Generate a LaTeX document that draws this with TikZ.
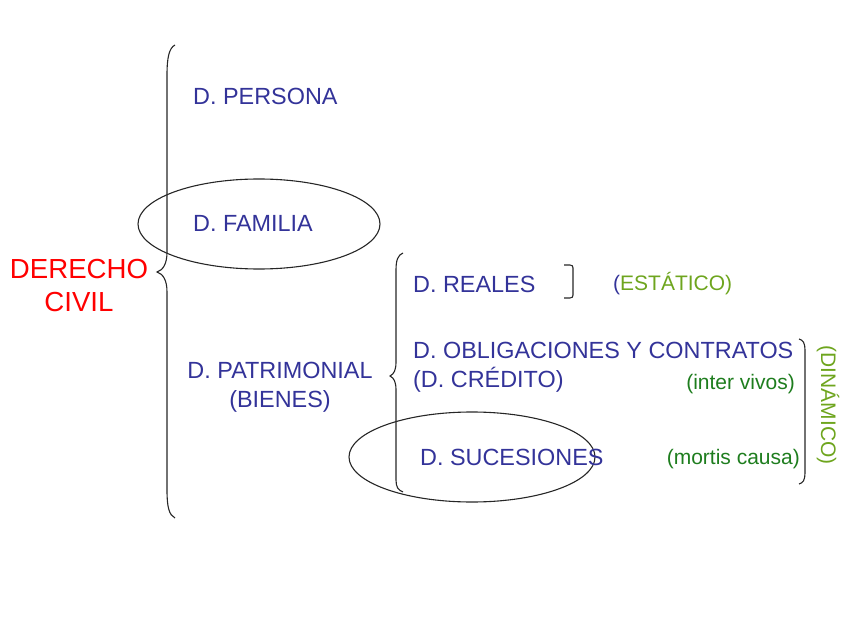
\documentclass[tikz,border=0pt]{standalone}
\usepackage{fontspec}
\setmainfont{Liberation Sans}
\definecolor{tblue}{RGB}{51,51,153}
\definecolor{tred}{RGB}{255,0,0}
\definecolor{lgreen}{RGB}{110,165,30}
\definecolor{dgreen}{RGB}{30,125,30}
\begin{document}
\begin{tikzpicture}[x=1pt,y=-1pt,
  lab/.style={inner sep=0pt, anchor=base west, text=tblue, font=\fontsize{23.4}{27}\selectfont},
  labc/.style={lab, anchor=base},
  redlab/.style={inner sep=0pt, anchor=base, text=tred, font=\fontsize{27.6}{33}\selectfont},
  grn/.style={inner sep=0pt, anchor=base east, text=dgreen, font=\fontsize{21}{25}\selectfont},
  lgrn/.style={inner sep=0pt, text=lgreen, font=\fontsize{21}{25}\selectfont},
  brace/.style={draw=black!85, line width=1.1pt},
  ring/.style={draw=black!85, line width=1.1pt}]
\useasboundingbox (0,0) rectangle (848,636);

% main brace
\draw[brace] (175,45) .. controls (169,48) and (167,58) .. (167,75) -- (167,252)
  .. controls (167,264) and (163,270) .. (157,272) .. controls (163,274) and (167,280) .. (167,292)
  -- (167,490) .. controls (167,507) and (169,515) .. (175,518);

% second brace
\draw[brace] (403,253) .. controls (398,255) and (396,260) .. (396,270) -- (396,362)
  .. controls (396,370) and (394,374) .. (390,376) .. controls (394,378) and (396,382) .. (396,390)
  -- (396,480) .. controls (396,487) and (398,490) .. (403,492);

% small bracket near D. REALES
\draw[brace] (564,265) -- (570,265) .. controls (572,265) and (573,266) .. (573,268) -- (573,295)
  .. controls (573,297) and (572,298) .. (570,298) -- (564,298);

% right bracket (dinamico)
\draw[brace] (799,339) .. controls (803,340) and (805,343) .. (805,350) -- (805,473)
  .. controls (805,480) and (803,483) .. (799,484);

% ellipses
\draw[ring] (259,224) ellipse [x radius=121, y radius=45];
\draw[ring] (472,457) ellipse [x radius=123, y radius=45];

% texts
\node[redlab] (derecho) at (79,278) {DERECHO};
\node[redlab] (civil) at (79,311) {CIVIL};

\node[lab] (persona) at (193,105) {D. PERSONA};
\node[lab] (familia) at (193,232) {D. FAMILIA};
\node[labc] (patri) at (280,378) {D. PATRIMONIAL};
\node[labc] (bienes) at (280,407) {(BIENES)};

\node[lab] (reales) at (413,292) {D. REALES};
\node[lab] (oblig) at (413,358) {D. OBLIGACIONES Y CONTRATOS};
\node[lab] (credito) at (413,387) {(D. CRÉDITO)};
\node[lab] (suces) at (420,465) {D. SUCESIONES};

\node[lgrn, anchor=base west] (estatico) at (613,290) {\textcolor{tblue}{(}ESTÁTICO)};
\node[grn] (inter) at (795,389) {(inter vivos)};
\node[grn] (mortis) at (800,464) {(mortis causa)};
\node[lgrn, rotate=-90, anchor=center] (dinamico) at (828,405) {(DINÁMICO)};
\end{tikzpicture}
\end{document}
